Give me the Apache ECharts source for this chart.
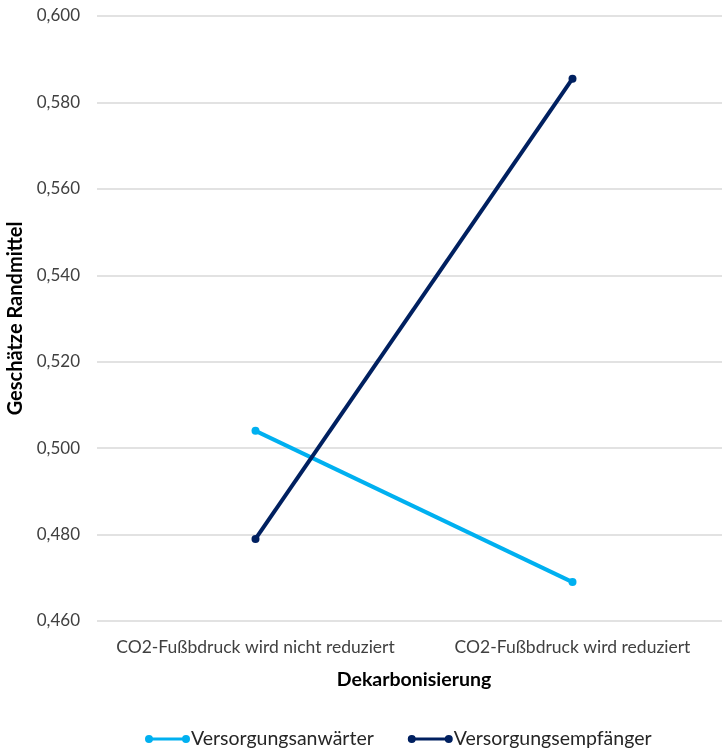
<!DOCTYPE html>
<html>
<head>
<meta charset="utf-8">
<script src="https://cdn.jsdelivr.net/npm/echarts@6/dist/echarts.min.js"></script>
<style>
html,body{margin:0;padding:0;background:#fff;overflow:hidden;}
#chart{width:740px;height:748px;}
</style>
</head>
<body>
<div id="chart"></div>
<script>
// Geschätzte Randmittel nach Dekarbonisierung
const categories = ['CO2-Fußbdruck wird nicht reduziert', 'CO2-Fußbdruck wird reduziert'];
const anwaerter = [0.504, 0.469];
const empfaenger = [0.479, 0.5855];
const seriesNames = ['Versorgungsanwärter', 'Versorgungsempfänger'];
const seriesColors = ['#00B0F0', '#002060'];

const FONT = 'Lato, "Open Sans", sans-serif';
// legend swatch: a line with a dot at each end
const legendIcon = 'path://M0,4A4,4 0 1 1 8,4A4,4 0 1 1 0,4ZM4,2.5L41,2.5L41,5.5L4,5.5ZM37,4A4,4 0 1 1 45,4A4,4 0 1 1 37,4Z';

const chart = echarts.init(document.getElementById('chart'));
chart.setOption({
  animation: false,
  grid: { left: 97, right: 9, top: 16, bottom: 127, containLabel: false, outerBoundsMode: 'none' },
  legend: {
    top: 724,
    left: 140,
    itemWidth: 45,
    itemHeight: 8,
    itemGap: 34,
    textStyle: { fontFamily: FONT, fontSize: 19.5, color: '#262626', padding: [0, 0, 0, -4] },
    data: seriesNames.map((n, i) => ({
      name: n,
      icon: legendIcon,
      itemStyle: { color: seriesColors[i], borderWidth: 0 }
    }))
  },
  xAxis: {
    type: 'category',
    data: categories,
    boundaryGap: true,
    name: 'Dekarbonisierung',
    nameLocation: 'middle',
    nameGap: 49,
    nameTextStyle: { fontFamily: FONT, fontSize: 19.5, fontWeight: 'bold', color: '#000' },
    axisLine: { show: false },
    axisTick: { show: false },
    axisLabel: { fontFamily: FONT, fontSize: 17.5, color: '#404040', margin: 17, interval: 0 }
  },
  yAxis: {
    type: 'value',
    min: 0.46,
    max: 0.6,
    interval: 0.02,
    name: 'Geschätze Randmittel',
    nameLocation: 'middle',
    nameGap: 62,
    nameTextStyle: { fontFamily: FONT, fontSize: 20, fontWeight: 'bold', color: '#000' },
    axisLabel: {
      fontFamily: FONT, fontSize: 17, color: '#404040', margin: 17,
      formatter: v => v.toFixed(3).replace('.', ',')
    },
    splitLine: { lineStyle: { color: '#d9d9d9', width: 1.5 } }
  },
  series: [
    {
      name: seriesNames[0], type: 'line', data: anwaerter,
      symbol: 'circle', symbolSize: 8,
      lineStyle: { color: seriesColors[0], width: 4 },
      itemStyle: { color: seriesColors[0] }
    },
    {
      name: seriesNames[1], type: 'line', data: empfaenger,
      symbol: 'circle', symbolSize: 8,
      lineStyle: { color: seriesColors[1], width: 4 },
      itemStyle: { color: seriesColors[1] }
    }
  ]
});
</script>
</body>
</html>
